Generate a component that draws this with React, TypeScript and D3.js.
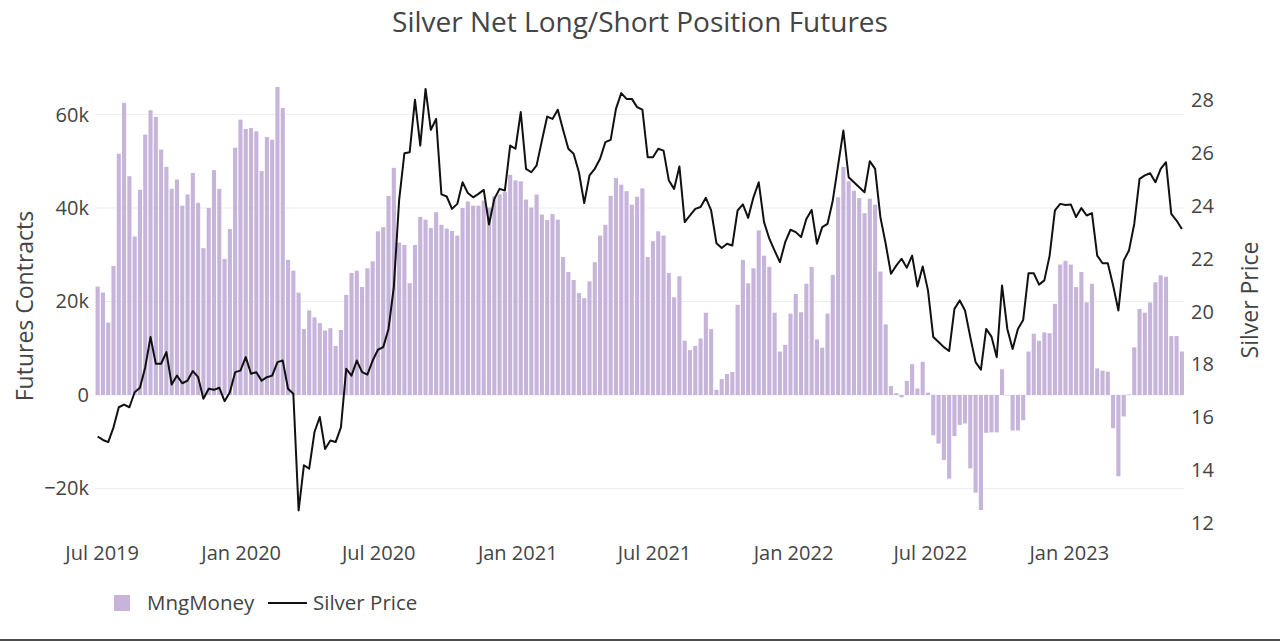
import React from "react";
import * as d3 from "d3";

// ---- data ----
const startDate = new Date(2019, 5, 25); // first weekly report (Tuesday)
const mngMoneyK: number[] = [
  23.2, 21.9, 15.5, 27.6, 51.6, 62.5, 46.8, 33.9, 43.9, 55.7,
  60.9, 59.5, 52.5, 48.8, 44.1, 46.1, 40.5, 42.9, 47.5, 41.1,
  31.4, 40.0, 48.1, 44.1, 29.1, 35.5, 52.9, 58.9, 56.9, 57.1,
  56.4, 47.9, 55.2, 54.6, 65.9, 61.4, 28.9, 26.6, 21.9, 14.1,
  18.1, 16.6, 15.4, 13.8, 14.3, 10.5, 13.9, 21.4, 26.1, 26.6,
  23.1, 27.1, 28.6, 35.0, 35.9, 42.6, 48.6, 32.6, 32.1, 23.9,
  32.1, 38.1, 37.5, 35.7, 39.1, 36.4, 35.6, 35.1, 34.1, 40.0,
  41.4, 40.5, 40.5, 41.6, 40.1, 42.5, 42.9, 43.4, 47.1, 45.9,
  45.7, 41.8, 40.1, 42.9, 38.6, 37.4, 38.7, 37.5, 29.5, 26.3,
  24.6, 21.8, 20.7, 24.3, 28.4, 34.1, 36.4, 42.6, 46.4, 45.0,
  43.6, 40.7, 42.4, 44.2, 29.5, 32.9, 35.0, 34.1, 26.1, 20.9,
  25.4, 11.6, 9.6, 10.5, 12.1, 17.6, 14.1, 1.1, 3.4, 4.5,
  4.9, 19.3, 28.9, 23.9, 27.1, 35.2, 29.8, 27.4, 17.6, 9.3,
  10.7, 17.4, 21.6, 17.7, 23.8, 27.4, 11.9, 10.1, 17.4, 25.7,
  42.3, 48.8, 45.7, 43.7, 42.1, 38.9, 42.0, 40.7, 26.4, 15.1,
  1.9, 0.4, -0.5, 3.0, 6.6, 1.4, 7.1, 0.5, -8.6, -10.4,
  -13.9, -17.9, -8.8, -6.4, -6.1, -15.7, -20.9, -24.6, -8.1, -8.0,
  -8.0, 5.5, -0.1, -7.6, -7.6, -5.4, 9.3, 13.1, 11.6, 13.4,
  13.2, 19.5, 27.9, 28.7, 27.9, 23.1, 26.3, 19.8, 23.8, 5.7,
  5.2, 5.0, -7.1, -17.4, -4.6, 0.1, 10.2, 18.4, 17.6, 19.8,
  24.1, 25.6, 25.3, 12.6, 12.6, 9.3,
];
const silverPrice: number[] = [
  15.26, 15.13, 15.05, 15.61, 16.37, 16.47, 16.37, 16.94, 17.11, 17.89,
  19.03, 18.02, 18.02, 18.46, 17.23, 17.57, 17.28, 17.38, 17.74, 17.51,
  16.69, 17.07, 17.03, 17.11, 16.60, 16.94, 17.70, 17.76, 18.27, 17.64,
  17.70, 17.38, 17.51, 17.57, 18.08, 18.14, 17.07, 16.88, 12.46, 14.17,
  14.04, 15.43, 16.0, 14.79, 15.11, 15.05, 15.61, 17.83, 17.57, 18.14,
  17.70, 17.61, 18.14, 18.55, 18.65, 19.34, 20.92, 24.21, 26.0, 26.04,
  28.03, 26.29, 28.44, 26.89, 27.30, 24.44, 24.36, 23.89, 24.08, 24.90,
  24.49, 24.33, 24.46, 24.61, 23.30, 24.27, 24.65, 24.59, 26.29, 26.17,
  27.56, 25.41, 25.28, 25.54, 26.48, 27.39, 27.30, 27.65, 26.89, 26.17,
  25.98, 25.28, 24.11, 25.16, 25.41, 25.79, 26.42, 26.51, 27.68, 28.28,
  28.06, 28.06, 27.75, 27.65, 25.85, 25.85, 26.17, 26.10, 24.97, 24.65,
  25.50, 23.39, 23.64, 23.89, 23.96, 24.31, 23.83, 22.59, 22.41, 22.57,
  22.50, 23.83, 24.06, 23.55, 24.33, 24.90, 23.39, 22.76, 22.31, 21.87,
  22.63, 23.10, 23.01, 22.82, 23.51, 23.85, 22.57, 23.20, 23.32, 24.21,
  25.54, 26.86, 25.09, 24.90, 24.71, 24.52, 25.70, 25.41, 23.58, 22.57,
  21.43, 21.74, 22.0, 21.66, 22.12, 20.95, 21.71, 20.80, 19.03, 18.84,
  18.65, 18.50, 20.10, 20.42, 20.04, 19.03, 18.08, 17.79, 19.34, 19.05,
  18.27, 20.99, 19.34, 18.58, 19.34, 19.68, 21.45, 21.45, 21.02, 21.18,
  22.12, 23.83, 24.08, 24.04, 24.06, 23.58, 23.92, 23.64, 23.73, 22.12,
  21.83, 21.83, 20.99, 20.04, 21.93, 22.31, 23.32, 25.03, 25.16, 25.24,
  24.90, 25.41, 25.66, 23.70, 23.45, 23.13,
];
const leftTicks = [-20000, 0, 20000, 40000, 60000];
const rightTicks = [12, 14, 16, 18, 20, 22, 24, 26, 28];

const dates: Date[] = mngMoneyK.map((_, i) => d3.timeDay.offset(startDate, i * 7));

export default function App() {
  const W = 1280, H = 641;
  const left = 95, right = 1184.5, top = 80, bottom = 530;
  const FONT = "'Open Sans', verdana, arial, sans-serif";
  const textColor = "#444";
  const barColor = "#c7b4da";

  const halfWeek = 3.5 * 24 * 3600 * 1000;
  const x = d3.scaleTime()
    .domain([new Date(dates[0].getTime() - halfWeek), new Date(dates[dates.length - 1].getTime() + halfWeek)])
    .range([left, right]);
  const yL = d3.scaleLinear().domain([-28880, 67380]).range([bottom, top]);
  const yR = d3.scaleLinear().domain([11.716, 28.777]).range([bottom, top]);

  const weekPx = x(new Date(dates[1])) - x(new Date(dates[0]));
  const barW = weekPx * 0.78;

  const line = d3.line<number>()
    .x((_, i) => x(dates[i]))
    .y((d) => yR(d));

  const xTicks = d3.timeMonth.every(6)!.range(new Date(2019, 6, 1), new Date(2023, 5, 1));
  const fmt = d3.timeFormat("%b %Y");

  return (
    <svg width={W} height={H} style={{ position: "absolute", left: 0, top: 0, background: "#fff" }} fontFamily={FONT}>
      <rect x={0} y={0} width={W} height={H} fill="#fff" />
      {/* title */}
      <text x={640} y={32} textAnchor="middle" fontSize={28} fill={textColor}>
        Silver Net Long/Short Position Futures
      </text>
      {/* grid */}
      {leftTicks.map((t) => (
        <line key={t} x1={left} x2={right} y1={yL(t)} y2={yL(t)} stroke="#ebedf2" strokeWidth={1} />
      ))}
      {/* bars */}
      {mngMoneyK.map((v, i) => {
        const val = v * 1000;
        const y0 = yL(0), y1 = yL(val);
        return (
          <rect key={i} x={x(dates[i]) - barW / 2} width={barW}
            y={Math.min(y0, y1)} height={Math.max(0.5, Math.abs(y1 - y0))} fill={barColor} />
        );
      })}
      {/* line */}
      <path d={line(silverPrice) || ""} fill="none" stroke="#111" strokeWidth={2} strokeLinejoin="round" />
      {/* left axis */}
      {leftTicks.map((t) => (
        <text key={t} x={89} y={yL(t)} dy="0.35em" textAnchor="end" fontSize={20} fill={textColor}>
          {t === 0 ? "0" : (t < 0 ? "\u2212" : "") + Math.abs(t / 1000) + "k"}
        </text>
      ))}
      <text transform={`translate(33,${(top + bottom) / 2 + 1}) rotate(-90)`} textAnchor="middle" fontSize={23} fill={textColor}>
        Futures Contracts
      </text>
      {/* right axis */}
      {rightTicks.map((t) => (
        <text key={t} x={1191} y={yR(t)} dy="0.35em" textAnchor="start" fontSize={20} fill={textColor}>
          {t}
        </text>
      ))}
      <text transform={`translate(1258,${(top + bottom) / 2 - 5}) rotate(-90)`} textAnchor="middle" fontSize={23} fill={textColor}>
        Silver Price
      </text>
      {/* x axis */}
      {xTicks.map((d) => (
        <text key={d.getTime()} x={x(d)} y={553} dy="0.35em" textAnchor="middle" fontSize={20} fill={textColor}>
          {fmt(d)}
        </text>
      ))}
      {/* legend */}
      <rect x={114} y={595} width={16} height={16} fill={barColor} />
      <text x={147} y={603} dy="0.35em" fontSize={20.5} fill={textColor}>MngMoney</text>
      <line x1={268} x2={307} y1={603} y2={603} stroke="#111" strokeWidth={2} />
      <text x={313} y={603} dy="0.35em" fontSize={20.5} fill={textColor}>Silver Price</text>
      {/* bottom border */}
      <rect x={0} y={639} width={W} height={2} fill="#4d4d4d" />
    </svg>
  );
}
